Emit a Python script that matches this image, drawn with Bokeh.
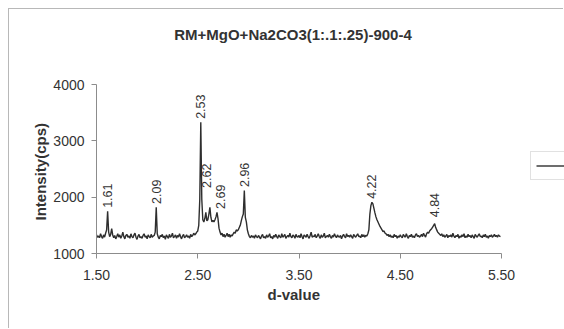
import numpy as np
from bokeh.plotting import figure
from bokeh.models import ColumnDataSource, Range1d, FixedTicker, Legend, LegendItem, Title
from bokeh.core.properties import value
from bokeh.embed import file_html
from bokeh.resources import INLINE

# ---------------- data ----------------
d_start = 1.50
d_step = 0.01
intensity = [
    1330, 1290, 1310, 1280, 1350, 1300, 1270, 1330, 1290, 1360,   # 1.50
    1420, 1750, 1380, 1300, 1340, 1440, 1330, 1280, 1320, 1260,   # 1.60
    1300, 1350, 1290, 1330, 1270, 1310, 1380, 1300, 1260, 1320,   # 1.70
    1340, 1290, 1310, 1270, 1350, 1300, 1280, 1330, 1360, 1290,   # 1.80
    1250, 1310, 1340, 1280, 1300, 1270, 1320, 1350, 1290, 1310,   # 1.90
    1260, 1330, 1300, 1280, 1340, 1290, 1310, 1320, 1380, 1820,   # 2.00
    1350, 1290, 1260, 1320, 1300, 1340, 1280, 1310, 1250, 1330,   # 2.10
    1300, 1270, 1340, 1290, 1310, 1360, 1280, 1300, 1330, 1270,   # 2.20
    1320, 1290, 1350, 1300, 1260, 1310, 1340, 1280, 1300, 1330,   # 2.30
    1290, 1310, 1270, 1340, 1300, 1320, 1360, 1330, 1350, 1380,   # 2.40
    1400, 1500, 1960, 3330, 1960, 1600, 1560, 1620, 1730, 1580,   # 2.50
    1600, 1700, 1820, 1640, 1560, 1590, 1560, 1600, 1650, 1730,   # 2.60
    1620, 1450, 1380, 1330, 1360, 1300, 1340, 1290, 1320, 1360,   # 2.70
    1300, 1340, 1290, 1330, 1310, 1350, 1380, 1360, 1420, 1400,   # 2.80
    1420, 1460, 1500, 1580, 1650, 1700, 2120, 1640, 1560, 1420,   # 2.90
    1350, 1300, 1280, 1320, 1290, 1310, 1270, 1330, 1300, 1280,   # 3.00
    1320, 1290, 1260, 1310, 1340, 1280, 1300, 1270, 1330, 1290,   # 3.10
    1310, 1350, 1280, 1300, 1260, 1320, 1290, 1340, 1300, 1270,   # 3.20
    1330, 1300, 1280, 1350, 1290, 1310, 1340, 1270, 1300, 1320,   # 3.30
    1290, 1360, 1300, 1280, 1330, 1310, 1270, 1340, 1300, 1290,   # 3.40
    1320, 1280, 1350, 1300, 1260, 1330, 1310, 1290, 1340, 1300,   # 3.50
    1270, 1320, 1380, 1290, 1310, 1300, 1340, 1280, 1310, 1350,   # 3.60
    1300, 1270, 1330, 1290, 1310, 1360, 1280, 1300, 1320, 1290,   # 3.70
    1340, 1300, 1270, 1320, 1290, 1350, 1310, 1280, 1330, 1300,   # 3.80
    1290, 1320, 1260, 1310, 1340, 1300, 1280, 1350, 1300, 1320,   # 3.90
    1290, 1330, 1300, 1270, 1340, 1310, 1290, 1320, 1350, 1300,   # 4.00
    1310, 1280, 1340, 1300, 1330, 1290, 1320, 1310, 1350, 1420,   # 4.10
    1700, 1850, 1910, 1880, 1800, 1720, 1650, 1600, 1560, 1520,   # 4.20
    1480, 1450, 1420, 1390, 1400, 1360, 1350, 1320, 1340, 1300,   # 4.30
    1330, 1290, 1310, 1280, 1340, 1300, 1320, 1270, 1310, 1290,   # 4.40
    1330, 1300, 1280, 1340, 1310, 1290, 1350, 1300, 1270, 1320,   # 4.50
    1300, 1340, 1290, 1310, 1280, 1330, 1350, 1300, 1320, 1290,   # 4.60
    1310, 1340, 1300, 1360, 1320, 1290, 1350, 1380, 1360, 1400,   # 4.70
    1420, 1440, 1470, 1500, 1530, 1460, 1420, 1380, 1360, 1340,   # 4.80
    1320, 1350, 1300, 1330, 1290, 1310, 1340, 1280, 1320, 1300,   # 4.90
    1330, 1290, 1360, 1310, 1280, 1320, 1300, 1340, 1270, 1310,   # 5.00
    1290, 1330, 1300, 1350, 1280, 1310, 1290, 1340, 1300, 1320,   # 5.10
    1280, 1330, 1300, 1270, 1340, 1310, 1290, 1320, 1350, 1300,   # 5.20
    1310, 1280, 1330, 1300, 1340, 1290, 1310, 1270, 1320, 1300,   # 5.30
    1330, 1290, 1310, 1340, 1300, 1320, 1290, 1330, 1310, 1300,   # 5.40
]
d_value = np.round(d_start + d_step * np.arange(len(intensity)), 2)

peak_labels = ["1.61", "2.09", "2.53", "2.62", "2.69", "2.96", "4.22", "4.84"]

x_ticks = [1.50, 2.50, 3.50, 4.50, 5.50]
y_ticks = [1000, 2000, 3000, 4000]

title_text = "RM+MgO+Na2CO3(1:.1:.25)-900-4"
x_label = "d-value"
y_label = "Intensity(cps)"
series_name = "Series1"

# ---------------- layout geometry (pixels) ----------------
FONT = "Liberation Sans"
TXT = "#333333"
AX = "#8c8c8c"

W, H = 555, 320
LEFT, BOTTOM = 87, 76          # side panels for the axes
AXIS_W, AXIS_H = 405, 169      # span of the drawn axes
x0, x1 = 1.50, 5.50
y0, y1 = 1000, 4000
frame_w, frame_h = W - LEFT, H - BOTTOM
x_end = x0 + (x1 - x0) * frame_w / AXIS_W    # plot area continues past the axes
y_end = y0 + (y1 - y0) * frame_h / AXIS_H

p = figure(width=W, height=H, output_backend="svg", toolbar_location=None,
           x_range=Range1d(x0, x_end), y_range=Range1d(y0, y_end),
           min_border_left=LEFT, min_border_right=0, min_border_top=0, min_border_bottom=BOTTOM)
p.styles = {"margin-left": "8px", "margin-top": "8px",
            "border-top": "1px solid #b8b8b8", "border-left": "1px solid #b8b8b8"}
p.outline_line_color = None
p.background_fill_color = "white"
p.border_fill_color = "white"
p.grid.visible = False

for ax in (p.xaxis[0], p.yaxis[0]):
    ax.axis_line_color = AX
    ax.major_tick_line_color = AX
    ax.minor_tick_line_color = None
    ax.major_tick_in = 0
    ax.major_tick_out = 5
    ax.major_label_text_font = FONT
    ax.major_label_text_font_size = "14px"
    ax.major_label_text_color = TXT

p.xaxis.ticker = FixedTicker(ticks=x_ticks)
p.xaxis.bounds = (x0, x1)
p.xaxis.major_label_overrides = {t: f"{t:.2f}" for t in x_ticks}
p.xaxis.major_label_standoff = 11

p.yaxis.ticker = FixedTicker(ticks=y_ticks)
p.yaxis.bounds = (y0, y1)
p.yaxis.major_label_standoff = 7

# axis titles: centred on the drawn axes, not on the (wider) plot area
x_title_len, y_title_len = 53, 103   # approximate rendered text lengths, px
p.add_layout(Title(text=x_label, align="left", offset=(AXIS_W - x_title_len) / 2 - 5,
                   text_font=FONT, text_font_size="15px", text_font_style="bold",
                   text_color=TXT, standoff=2), "below")
p.add_layout(Title(text=y_label, align="left", offset=(AXIS_H - y_title_len) / 2,
                   text_font=FONT, text_font_size="15px", text_font_style="bold",
                   text_color=TXT, standoff=4), "left")

src = ColumnDataSource(dict(x=d_value, y=intensity))
line = p.line("x", "y", source=src, line_color="#2e2e2e", line_width=1.4)

# peak labels placed above local maxima (small screen nudges as in the original)
arr = np.array(intensity)
lx, ly = [], []
for lab in peak_labels:
    xv = float(lab)
    mask = np.abs(d_value - xv) <= 0.015
    lx.append(xv)
    ly.append(arr[mask].max() + 60)
nudge_x = [0, 0, 0, -3, 4, 0, 0, 0]
nudge_y = [0, 0, 0, -16, 0, 0, 0, -3]
p.text(x=lx, y=ly, text=peak_labels, angle=np.pi / 2, text_align="left",
       text_baseline="middle", text_font_size="12.5px", text_color=TXT,
       text_font=value(FONT), x_offset=nudge_x, y_offset=nudge_y)

# chart title, 50 px above the top of the y axis
p.text(x=[(x0 + x1) / 2], y=[y1], text=[title_text], text_align="center",
       text_baseline="middle", x_offset=-6, y_offset=-50, text_font=value(FONT),
       text_font_size="15px", text_font_style="bold", text_color=TXT)

legend = Legend(items=[LegendItem(label=series_name, renderers=[line])],
                location=(434, 73), orientation="vertical",
                border_line_color="#c4c4c4", border_line_width=1,
                padding=5, margin=0, spacing=0,
                glyph_width=30, glyph_height=17, label_height=17,
                label_text_font=FONT, label_text_font_size="12px", label_text_color=TXT,
                background_fill_alpha=1)
p.add_layout(legend, "center")

open("out.html", "w").write(file_html(p, INLINE))
